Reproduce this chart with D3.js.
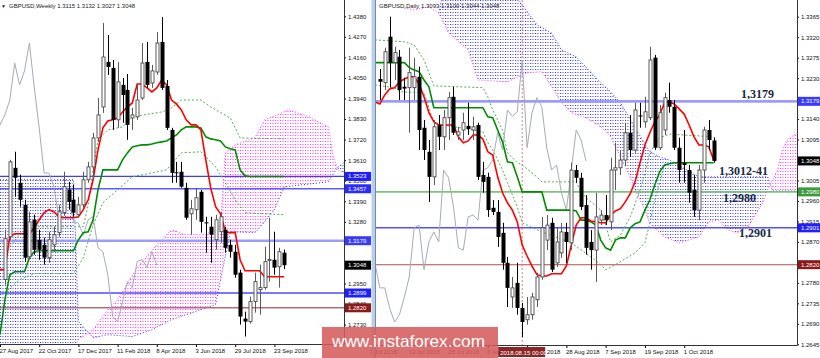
<!DOCTYPE html>
<html><head><meta charset="utf-8">
<script src="https://cdn.jsdelivr.net/npm/d3@7"></script>
<style>
html,body{margin:0;padding:0;background:#fff;}
svg{display:block;font-family:"Liberation Sans",Arial,sans-serif;}
</style></head><body>
<svg id="chart" width="820" height="358"></svg>
<script>
// ================= WEEKLY (left panel) =================
const wkTitle = "GBPUSD,Weekly  1.3115 1.3132 1.3027 1.3048";
const wkFirst = 1; // bar index of first candle (bar 0 = 27 Aug 2017)
const wkOpen = [1.2971,1.3200,1.3569,1.3489,1.3371,1.3093,1.3291,1.3184,1.3157,1.3088,
 1.3157,1.3222,1.3329,1.3451,1.3398,1.3318,1.3371,1.3505,1.3574,1.3729,
 1.3895,1.4136,1.4104,1.3826,1.4013,1.3986,1.3836,1.3842,1.3943,1.4136,
 1.4023,1.4082,1.4243,1.4007,1.3772,1.3545,1.3548,1.3462,1.3323,1.3345,
 1.3441,1.3277,1.3254,1.3184,1.3227,1.3238,1.3157,1.3120,1.3008,1.2762,
 1.2746,1.2853,1.2917,1.2928,1.3075,1.3077,1.3040,1.3115];
const wkHigh = [1.3238,1.3612,1.3655,1.3532,1.3398,1.3334,1.3318,1.3238,1.3195,1.3227,
 1.3254,1.3371,1.3548,1.3494,1.3478,1.3414,1.3548,1.3601,1.3756,1.3943,
 1.4344,1.4280,1.4146,1.4136,1.4050,1.4071,1.3890,1.4013,1.4237,1.4243,
 1.4120,1.4296,1.4376,1.4039,1.3783,1.3601,1.3601,1.3489,1.3398,1.3462,
 1.3451,1.3307,1.3307,1.3318,1.3334,1.3254,1.3184,1.3157,1.3024,1.2799,
 1.2880,1.3008,1.3051,1.3147,1.3302,1.3227,1.3141,1.3132];
const wkLow = [1.2944,1.3184,1.3414,1.3361,1.3067,1.3077,1.3104,1.3077,1.3051,1.3061,
 1.3120,1.3200,1.3312,1.3345,1.3307,1.3302,1.3355,1.3489,1.3505,1.3708,
 1.3863,1.4066,1.3772,1.3783,1.3810,1.3719,1.3772,1.3826,1.3932,1.3997,
 1.3997,1.4066,1.3986,1.3772,1.3489,1.3489,1.3462,1.3291,1.3211,1.3291,
 1.3222,1.3115,1.3061,1.3131,1.3168,1.3115,1.3088,1.2981,1.2730,1.2666,
 1.2735,1.2794,1.2783,1.2917,1.2960,1.2997,1.2928,1.3027];
const wkClose = [1.3190,1.3601,1.3516,1.3398,1.3088,1.3280,1.3131,1.3131,1.3088,1.3184,
 1.3211,1.3334,1.3468,1.3387,1.3329,1.3371,1.3505,1.3574,1.3729,1.3852,
 1.4162,1.4109,1.3826,1.4029,1.3959,1.3799,1.3852,1.3932,1.4130,1.4013,
 1.4088,1.4237,1.3997,1.3783,1.3542,1.3540,1.3468,1.3302,1.3350,1.3409,
 1.3280,1.3273,1.3211,1.3291,1.3307,1.3141,1.3120,1.2997,1.2773,1.2746,
 1.2853,1.2960,1.2928,1.3067,1.3079,1.3035,1.3120,1.3048];
const wkTenkan = [1.3024,1.3024,1.3200,1.3216,1.3216,1.3216,1.3216,1.3248,1.3291,1.3329,
 1.3345,1.3334,1.3307,1.3302,1.3302,1.3302,1.3307,1.3345,1.3398,1.3505,
 1.3665,1.3783,1.3820,1.3826,1.3836,1.3868,1.3895,1.3916,1.4018,1.4018,
 1.3997,1.3975,1.3997,1.4039,1.4013,1.3932,1.3911,1.3879,1.3826,1.3799,
 1.3799,1.3772,1.3612,1.3462,1.3361,1.3323,1.3227,1.3222,1.3222,1.3077,
 1.3018,1.3018,1.3018,1.3018,1.2986,1.2986,1.2986,1.2986,1.2986];
const wkKijun = [1.2676,1.2864,1.2997,1.3013,1.3013,1.3013,1.3088,1.3120,1.3125,1.3125,
 1.3125,1.3125,1.3125,1.3125,1.3125,1.3125,1.3184,1.3222,1.3227,1.3291,
 1.3451,1.3558,1.3558,1.3558,1.3558,1.3612,1.3649,1.3681,1.3687,1.3692,
 1.3692,1.3697,1.3703,1.3708,1.3713,1.3729,1.3745,1.3772,1.3788,1.3788,
 1.3788,1.3783,1.3735,1.3724,1.3719,1.3713,1.3681,1.3671,1.3665,1.3558,
 1.3526,1.3523,1.3523,1.3523,1.3523,1.3523,1.3523,1.3523,1.3523];
const wkSpanA = [[0,1.3505],[15,1.3505],[16,1.2746],[19,1.2660],[22,1.2676],[27,1.2666],[31,1.2703],[35,1.2757],[41,1.2810],[44,1.2837],[47,1.3227],[52,1.3222],[53,1.3248],[56,1.3345],[58,1.3467],[67,1.3494],[69,1.3574],[71,1.3612]];
const wkSpanB = [[0,1.2600],[15,1.2600],[16,1.2650],[19,1.2703],[22,1.2810],[24,1.2864],[28,1.3035],[32,1.3157],[35,1.3238],[38,1.3211],[42,1.3211],[45,1.3264],[46,1.3649],[48,1.3692],[52,1.3729],[54,1.3826],[59,1.3879],[63,1.3842],[67,1.3788],[68,1.3628],[69,1.3558],[71,1.3532]];
const wkDot1 = [[2,1.3147],[4,1.3211],[7,1.3254],[17,1.3254],[18,1.3371],[19,1.3558],[20,1.3719],[22,1.3772],[25,1.3788],[27,1.3842],[33,1.3868],[35,1.3890],[37,1.3932],[41,1.3932],[43,1.3895],[47,1.3836],[49,1.3729],[58,1.3724]];
const wkDot2 = [[1,1.2901],[4,1.2971],[7,1.3003],[15,1.3003],[17,1.3088],[19,1.3264],[21,1.3382],[27,1.3521],[34,1.3558],[37,1.3649],[41,1.3655],[44,1.3574],[46,1.3489],[48,1.3398],[50,1.3329],[58,1.3318]];
const wkTickIdx = [0,8,16,24,32,40,48,56];
const wkTickLabels = ["27 Aug 2017","22 Oct 2017","17 Dec 2017","11 Feb 2018","8 Apr 2018","3 Jun 2018","29 Jul 2018","23 Sep 2018"];
const wkPriceTicks = [1.4380,1.4270,1.4160,1.4050,1.3940,1.3830,1.3720,1.3610,1.3500,1.3390,1.3280,1.3170,1.3060,1.2950,1.2840,1.2730];
const wkLevels = [1.3523,1.3457,1.3179,1.2899,1.2820];
const wkLevelColors = ["#3d3dff","#5c5cff","#9c9cff","#4a4aff","#b07070"];
const wkLevelWidths = [1.2,1.6,2.6,1.3,1.5];
const wkTags = [1.3523,1.3457,1.3179,1.3048,1.2899,1.2820];
const wkTagColors = ["#1f1fff","#2b2bff","#3a3aff","#000000","#1f1fff","#8b1a1a"];

// ================= DAILY (right panel) =================
const dTitle = "GBPUSD,Daily  1.3093 1.3100 1.3044 1.3048";
const dFirst = 2; // bar 0 = 3 Jul 2018
const dOpen = [1.3228,1.3220,1.3321,1.3264,1.3277,1.3211,1.3209,1.3209,1.3233,1.3121,
 1.3068,1.3013,1.3127,1.3101,1.3143,1.3189,1.3105,1.3116,1.3125,1.3116,
 1.3127,1.3017,1.3013,1.2945,1.2936,1.2890,1.2824,1.2749,1.2780,1.2725,
 1.2699,1.2710,1.2743,1.2793,1.2874,1.2912,1.2824,1.2846,1.2892,1.2868,
 1.3028,1.3011,1.2951,1.2870,1.2852,1.2918,1.2929,1.2914,1.3028,1.3033,
 1.3050,1.3110,1.3072,1.3148,1.3134,1.3143,1.3275,1.3077,1.3116,1.3182,
 1.3167,1.3077,1.3044,1.3028,1.2984,1.2940,1.3028,1.3116,1.3093];
const dHigh = [1.3250,1.3297,1.3365,1.3299,1.3292,1.3231,1.3297,1.3275,1.3255,1.3138,
 1.3094,1.3138,1.3149,1.3160,1.3200,1.3211,1.3123,1.3154,1.3176,1.3145,
 1.3132,1.3046,1.3022,1.2962,1.2962,1.2912,1.2837,1.2793,1.2824,1.2736,
 1.2749,1.2758,1.2802,1.2925,1.2929,1.2923,1.2901,1.2912,1.2912,1.3044,
 1.3039,1.3022,1.2973,1.2896,1.2978,1.2940,1.2973,1.3055,1.3088,1.3072,
 1.3132,1.3149,1.3176,1.3176,1.3189,1.3299,1.3281,1.3171,1.3198,1.3220,
 1.3182,1.3099,1.3116,1.3039,1.3017,1.3039,1.3123,1.3138,1.3100];
const dLow = [1.3182,1.3204,1.3209,1.3226,1.3182,1.3182,1.3110,1.3182,1.3072,1.3050,
 1.2958,1.2995,1.3072,1.3072,1.3094,1.3105,1.3094,1.3094,1.3105,1.3094,
 1.3006,1.2978,1.2925,1.2929,1.2859,1.2809,1.2727,1.2725,1.2710,1.2661,
 1.2688,1.2699,1.2727,1.2787,1.2852,1.2804,1.2815,1.2835,1.2824,1.2852,
 1.3000,1.2940,1.2842,1.2809,1.2782,1.2907,1.2907,1.2896,1.2984,1.3017,
 1.3039,1.3057,1.3066,1.3121,1.3121,1.3138,1.3072,1.3072,1.3105,1.3154,
 1.3072,1.3000,1.3000,1.2956,1.2925,1.2918,1.3000,1.3072,1.3044];
const dClose = [1.3222,1.3288,1.3264,1.3286,1.3204,1.3207,1.3242,1.3233,1.3116,1.3072,
 1.3013,1.3123,1.3101,1.3143,1.3187,1.3110,1.3112,1.3132,1.3118,1.3123,
 1.3013,1.3002,1.2940,1.2936,1.2881,1.2824,1.2769,1.2769,1.2725,1.2694,
 1.2710,1.2749,1.2793,1.2901,1.2907,1.2809,1.2870,1.2892,1.2870,1.3028,
 1.3011,1.2947,1.2857,1.2852,1.2925,1.2929,1.2918,1.3028,1.3033,1.3050,
 1.3110,1.3072,1.3160,1.3146,1.3156,1.3270,1.3077,1.3154,1.3187,1.3167,
 1.3077,1.3028,1.3039,1.2978,1.2940,1.3028,1.3116,1.3094,1.3048];
const dLineFirst = 1;
const dTenkan = [1.3178,1.3173,1.3193,1.3206,1.3209,1.3222,1.3228,1.3233,1.3233,1.3217,
 1.3189,1.3154,1.3134,1.3127,1.3127,1.3127,1.3127,1.3101,1.3088,1.3092,
 1.3105,1.3105,1.3096,1.3068,1.3061,1.3013,1.2978,1.2956,1.2940,1.2914,
 1.2863,1.2839,1.2817,1.2798,1.2795,1.2795,1.2800,1.2800,1.2800,1.2817,
 1.2863,1.2907,1.2923,1.2923,1.2916,1.2914,1.2912,1.2912,1.2929,1.2938,
 1.2943,1.2958,1.2976,1.3002,1.3044,1.3083,1.3110,1.3134,1.3149,1.3176,
 1.3178,1.3173,1.3162,1.3151,1.3127,1.3101,1.3083,1.3083,1.3079,1.3050];
const dKijun = [1.3264,1.3264,1.3264,1.3264,1.3264,1.3264,1.3264,1.3253,1.3248,1.3244,
 1.3226,1.3211,1.3165,1.3165,1.3165,1.3165,1.3165,1.3165,1.3165,1.3165,
 1.3165,1.3165,1.3165,1.3145,1.3143,1.3116,1.3090,1.3046,1.3044,1.3013,
 1.2980,1.2980,1.2980,1.2980,1.2980,1.2940,1.2940,1.2940,1.2940,1.2940,
 1.2940,1.2938,1.2918,1.2918,1.2914,1.2907,1.2874,1.2857,1.2852,1.2874,
 1.2879,1.2879,1.2901,1.2910,1.2914,1.2940,1.2962,1.2995,1.3024,1.3039,
 1.3042,1.3044,1.3044,1.3044,1.3044,1.3044,1.3044,1.3044,1.3044,1.3044];
const dSpanA = [[14,1.3373],[15,1.3424],[30,1.3406],[34,1.3347],[37,1.3329],[39,1.3292],[42,1.3277],[46,1.3231],[49,1.3200],[51,1.3176],[54,1.3121],[57,1.3068],[59,1.3057],[61,1.3050],[67,1.3013],[81,1.3013],[82,1.2982],[88,1.2982]];
const dSpanB = [[7,1.3384],[9,1.3380],[12,1.3387],[14,1.3373],[16,1.3329],[20,1.3292],[22,1.3226],[28,1.3222],[32,1.3242],[35,1.3244],[37,1.3211],[39,1.3176],[41,1.3154],[44,1.3143],[47,1.3123],[49,1.3101],[51,1.3057],[53,1.3013],[54,1.2984],[56,1.2940],[57,1.2910],[60,1.2881],[63,1.2868],[67,1.2881],[69,1.2914],[71,1.2918],[73,1.2896],[75,1.2890],[77,1.2903],[80,1.2956],[81,1.2985],[83,1.3028],[84,1.3072],[85,1.3094],[87,1.3110]];
const dDot1 = [[1,1.3314],[7,1.3310],[9,1.3303],[11,1.3270],[13,1.3213],[23,1.3209],[24,1.3189],[25,1.3160],[27,1.3116],[28,1.3066],[30,1.3044],[31,1.3039],[34,1.3013],[35,1.3002],[42,1.3002],[43,1.2978],[45,1.2958],[47,1.2940],[48,1.2907],[49,1.2870],[51,1.2885],[53,1.2925],[55,1.2984],[56,1.3022],[57,1.3066],[59,1.3099],[61,1.3107],[70,1.3101]];
const dDot2 = [[1,1.3215],[5,1.3209],[6,1.3200],[11,1.3198],[13,1.3132],[15,1.3127],[21,1.3116],[23,1.3112],[24,1.3088],[25,1.3072],[27,1.3028],[28,1.3000],[30,1.2947],[31,1.2912],[35,1.2892],[41,1.2868],[45,1.2837],[47,1.2820],[48,1.2809],[50,1.2820],[54,1.2846],[56,1.2868],[57,1.2912],[58,1.2962],[60,1.3039]];
const dTickIdx = [0,8,16,24,32,40,48,56,64];
const dTickLabels = ["3 Jul 2018","13 Jul 2018","25 Jul 2018","6 Aug 2018","16 Aug 2018","28 Aug 2018","7 Sep 2018","19 Sep 2018","1 Oct 2018"];
const dPriceTicks = [1.3365,1.3320,1.3275,1.3230,1.3185,1.3140,1.3095,1.3050,1.3005,1.2960,1.2915,1.2870,1.2825,1.2780,1.2735,1.2690,1.2645];
const dLevels = [1.3179,1.2980,1.2901,1.2820];
const dLevelColors = ["#9c9cff","#7cc47c","#5050ff","#b44c4c"];
const dLevelWidths = [2.6,1.6,1.6,1.1];
const dTags = [1.3179,1.3048,1.2980,1.2901,1.2820];
const dTagColors = ["#3a3aff","#000000","#3c9a3c","#1f1fff","#8b1a1a"];
const dMarkIdx = 31;
const dMarkLabel = "2018.08.15 00:00";
const dNotes = [["1,3179",1.3179],["1,3012-41",1.3030],["1,2980",1.2980],["1,2901",1.2901]];

// ================= DRAWING =================
const svg = d3.select("#chart");
const defs = svg.append("defs");
function mkPattern(id, color){
  const p = defs.append("pattern").attr("id",id).attr("patternUnits","userSpaceOnUse")
    .attr("width",2.5).attr("height",3);
  p.append("rect").attr("width",1).attr("height",1).attr("fill",color);
}
mkPattern("dotBlue","#2f2fff");
mkPattern("dotMag","#ff33ff");
let uid = 0;

function drawPanel(P){
  const {x,y,left,right,top,bottom,axisX} = P;
  const cid = "clip"+(uid++);
  defs.append("clipPath").attr("id",cid).append("rect")
    .attr("x",left).attr("y",top).attr("width",right-left).attr("height",bottom-top);
  const g = svg.append("g").attr("clip-path",`url(#${cid})`);
  const line = d3.line().x(d=>x(d[0])).y(d=>y(d[1]));

  // cloud (difference-area technique)
  const ca = "ca"+(uid++), cb = "cb"+(uid++);
  // ca: region above span A on screen (price > A); cb: region below span A (price < A)
  defs.append("clipPath").attr("id",ca).append("path")
    .attr("d", d3.area().x(d=>x(d[0])).y0(top-600).y1(d=>y(d[1]))(P.spanA));
  defs.append("clipPath").attr("id",cb).append("path")
    .attr("d", d3.area().x(d=>x(d[0])).y0(bottom+600).y1(d=>y(d[1]))(P.spanA));
  // price above A and below B -> B > A -> bearish (magenta)
  g.append("g").attr("clip-path",`url(#${ca})`).append("path")
    .attr("d", d3.area().x(d=>x(d[0])).y0(d=>y(d[1])).y1(bottom+600)(P.spanB))
    .attr("fill","url(#dotMag)");
  // price below A and above B -> A > B -> bullish (blue)
  g.append("g").attr("clip-path",`url(#${cb})`).append("path")
    .attr("d", d3.area().x(d=>x(d[0])).y0(d=>y(d[1])).y1(top-600)(P.spanB))
    .attr("fill","url(#dotBlue)");
  g.append("path").attr("d",line(P.spanA)).attr("fill","none").attr("stroke","#3535ff").attr("stroke-width",1).attr("stroke-dasharray","1,2");
  g.append("path").attr("d",line(P.spanB)).attr("fill","none").attr("stroke","#ff35ff").attr("stroke-width",1).attr("stroke-dasharray","1,2");

  // level lines
  P.levels.forEach((p,i)=>{
    g.append("line").attr("x1",left).attr("x2",right).attr("y1",y(p)).attr("y2",y(p))
      .attr("stroke",P.levelColors[i]).attr("stroke-width",P.levelWidths[i]);
  });

  if (P.markIdx !== undefined){
    g.append("line").attr("x1",x(P.markIdx)).attr("x2",x(P.markIdx)).attr("y1",top).attr("y2",bottom)
      .attr("stroke","#e07a7a").attr("stroke-width",1).attr("stroke-dasharray","2,2");
  }

  // dotted green lines
  [P.dot1,P.dot2].forEach(d=>{
    g.append("path").attr("d",line(d)).attr("fill","none").attr("stroke","#4fae4f")
      .attr("stroke-width",1).attr("stroke-dasharray","2,2");
  });

  const candles = P.open.map((o,i)=>({i:i+P.first,o,h:P.high[i],l:P.low[i],c:P.close[i]}));
  // chikou = close shifted back 26 bars
  g.append("path").attr("d",line(candles.map(d=>[d.i-26,d.c]))).attr("fill","none")
    .attr("stroke","#a4acb5").attr("stroke-width",1);
  // kijun & tenkan
  g.append("path").attr("d",line(P.kijun.map((v,i)=>[i+P.lineFirst,v]))).attr("fill","none")
    .attr("stroke","#008c00").attr("stroke-width",1.6);
  g.append("path").attr("d",line(P.tenkan.map((v,i)=>[i+P.lineFirst,v]))).attr("fill","none")
    .attr("stroke","#ff0000").attr("stroke-width",1.6);

  // candles
  const cg = g.append("g");
  candles.forEach(d=>{
    const up = d.c >= d.o;
    const cx = Math.round(x(d.i))+0.5;
    cg.append("line").attr("x1",cx).attr("x2",cx).attr("y1",y(d.h)).attr("y2",y(d.l))
      .attr("stroke", up ? "#5a5a5a" : "#000").attr("stroke-width",1);
    const yt = y(Math.max(d.o,d.c)), yb = y(Math.min(d.o,d.c));
    if (up){
      cg.append("rect").attr("x",cx-1.5).attr("y",yt).attr("width",3).attr("height",Math.max(1,yb-yt))
        .attr("fill","#fff").attr("stroke","#4a4a4a").attr("stroke-width",0.9);
    } else {
      cg.append("rect").attr("x",cx-2).attr("y",yt).attr("width",4).attr("height",Math.max(1,yb-yt))
        .attr("fill","#000");
    }
  });

  // y axis (ticks hidden under a price tag are not shown, as in the terminal)
  const shownTicks = P.priceTicks.filter(t => P.tags.every(p => Math.abs(y(t)-y(p)) >= 3.5));
  const ya = svg.append("g").attr("transform",`translate(${axisX},0)`)
    .call(d3.axisRight(y).tickValues(shownTicks).tickSize(2).tickPadding(2).tickFormat(d3.format(".4f")));
  ya.select(".domain").remove();
  ya.attr("font-size",6).attr("font-family","'Liberation Sans',Arial,sans-serif");
  ya.selectAll("text").attr("fill","#111");
  svg.append("line").attr("x1",axisX+0.5).attr("x2",axisX+0.5).attr("y1",top).attr("y2",bottom).attr("stroke","#333");

  // x axis
  const xa = svg.append("g").attr("transform",`translate(0,${bottom})`)
    .call(d3.axisBottom(x).tickValues(P.tickIdx).tickSize(3).tickPadding(2)
      .tickFormat((d,i)=>P.tickLabels[i]));
  xa.select(".domain").remove();
  xa.attr("font-size",6).attr("font-family","'Liberation Sans',Arial,sans-serif");
  xa.selectAll("text").attr("text-anchor","start").attr("dx",-1).attr("y",5).attr("fill","#111");
  svg.append("line").attr("x1",left).attr("x2",axisX+0.5).attr("y1",bottom+0.5).attr("y2",bottom+0.5).attr("stroke","#333");

  // price tags
  P.tags.forEach((p,i)=>{
    svg.append("rect").attr("x",axisX+1).attr("y",y(p)-4.5).attr("width",26).attr("height",9).attr("fill",P.tagColors[i]);
    svg.append("text").attr("x",axisX+4).attr("y",y(p)).attr("dy","0.34em").attr("font-size",6)
      .attr("fill","#fff").text(d3.format(".4f")(p));
  });

  // title
  svg.append("text").attr("x",P.titleX).attr("y",8).attr("font-size",6).attr("fill","#222").text(P.title);
}

const xL = d3.scaleLinear().domain([0,56]).range([0,274.4]);
const yL = d3.scaleLinear().domain([1.2730,1.4380]).range([324.6,16.3]);
drawPanel({x:xL,y:yL,left:0,right:344,top:0,bottom:344,axisX:344,
  first:wkFirst,open:wkOpen,high:wkHigh,low:wkLow,close:wkClose,
  lineFirst:0,tenkan:wkTenkan,kijun:wkKijun,spanA:wkSpanA,spanB:wkSpanB,dot1:wkDot1,dot2:wkDot2,
  tickIdx:wkTickIdx,tickLabels:wkTickLabels,priceTicks:wkPriceTicks,
  levels:wkLevels,levelColors:wkLevelColors,levelWidths:wkLevelWidths,
  tags:wkTags,tagColors:wkTagColors,title:wkTitle,titleX:9});

const xR = d3.scaleLinear().domain([0,64]).range([370,684.2]);
const yR = d3.scaleLinear().domain([1.2645,1.3365]).range([344.3,16.7]);
drawPanel({x:xR,y:yR,left:376,right:797,top:0,bottom:345,axisX:797,
  first:dFirst,open:dOpen,high:dHigh,low:dLow,close:dClose,
  lineFirst:dLineFirst,tenkan:dTenkan,kijun:dKijun,spanA:dSpanA,spanB:dSpanB,dot1:dDot1,dot2:dDot2,
  tickIdx:dTickIdx,tickLabels:dTickLabels,priceTicks:dPriceTicks,
  levels:dLevels,levelColors:dLevelColors,levelWidths:dLevelWidths,
  tags:dTags,tagColors:dTagColors,title:dTitle,titleX:379,markIdx:dMarkIdx});

// marker box on the daily time axis
const mx = xR(dMarkIdx);
svg.append("rect").attr("x",mx-24).attr("y",347).attr("width",47).attr("height",10).attr("fill","#8c2626");
svg.append("text").attr("x",mx-22).attr("y",354.5).attr("font-size",6).attr("fill","#fff").text(dMarkLabel);

// annotations
dNotes.forEach(([t,p],i)=>{
  const xs = [741,719,723,739];
  const dy = [-3,6,10,9];
  svg.append("text").attr("x",xs[i]).attr("y",yR(p)+dy[i]).attr("font-family","'Liberation Serif','Times New Roman',serif")
    .attr("font-weight","bold").attr("font-size",12).attr("fill","#172848").text(t);
});

// left title marker
svg.append("text").attr("x",1).attr("y",8).attr("font-size",5).attr("fill","#222").text("\u25BC");

// window separator
svg.append("rect").attr("x",371.5).attr("y",0).attr("width",3.5).attr("height",358).attr("fill","#b7cfe8");
svg.append("line").attr("x1",375.5).attr("x2",375.5).attr("y1",0).attr("y2",358).attr("stroke","#6d8bab");

// watermark
svg.append("rect").attr("x",322).attr("y",327).attr("width",176).attr("height",31).attr("fill","#d65c5c").attr("opacity",0.88);
svg.append("text").attr("x",332).attr("y",347).attr("font-size",17).attr("fill","#fff")
  .attr("textLength",153).attr("lengthAdjust","spacingAndGlyphs").text("www.instaforex.com");
</script></body></html>
